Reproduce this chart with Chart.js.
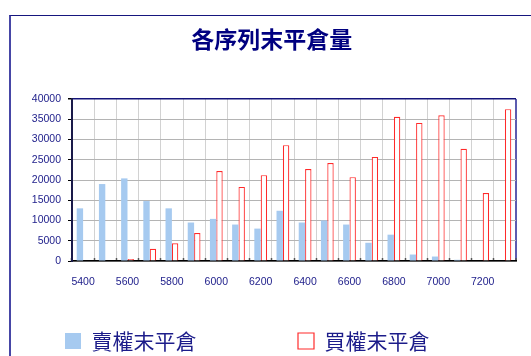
<!DOCTYPE html>
<html>
<head>
<meta charset="utf-8">
<script src="https://cdn.jsdelivr.net/npm/chart.js@4/dist/chart.umd.min.js"></script>
<style>
  html, body { margin: 0; padding: 0; background: #fff; overflow: hidden; width: 531px; height: 356px; }
  #frame { position: absolute; left: 9px; top: 15px; width: 600px; height: 400px;
           border-left: 2px solid #4646a6; border-top: 1px solid #16167e; }
  #c { position: absolute; left: 0; top: 0; }
</style>
</head>
<body>
<div id="frame"><canvas id="c" width="520" height="350" style="width:520px;height:350px"></canvas></div>
<script>
const titleText = '各序列末平倉量';
const strikes = ['5400','5500','5600','5700','5800','5900','6000','6100','6200','6300',
                 '6400','6500','6600','6700','6800','6900','7000','7100','7200','7300'];
const putOI  = [13000,19000,20400,14800,13000,9500,10400,9000,8000,12400,
                9500,10000,9000,4500,6500,1600,1100,300,0,0];
const callOI = [0,0,500,3000,4400,6900,22200,18300,21200,28600,
                22700,24200,20700,25700,35600,34100,36000,27700,16800,37500];
const putLabel = '賣權末平倉';
const callLabel = '買權末平倉';
const yTicks = [0,5000,10000,15000,20000,25000,30000,35000,40000];

const tickColor = '#22228c';
const numFont = { family: "'Liberation Sans', Arial, sans-serif", size: 10.5 };

new Chart(document.getElementById('c'), {
  type: 'bar',
  data: {
    labels: strikes,
    datasets: [
      { label: putLabel, data: putOI, backgroundColor: '#a6caf0', borderWidth: 0,
        barPercentage: 1, categoryPercentage: 0.575 },
      { label: callLabel, data: callOI, backgroundColor: '#ffffff', borderColor: '#ff2a2a',
        borderWidth: 1.2, barPercentage: 1, categoryPercentage: 0.575 }
    ]
  },
  options: {
    responsive: false,
    animation: false,
    layout: { padding: { left: 16.5, right: 15, top: 0, bottom: 4.5 } },
    plugins: {
      tooltip: { enabled: false },
      title: {
        display: true, text: titleText, color: '#000080',
        font: { family: "'Noto Sans CJK TC', 'Noto Sans CJK SC', sans-serif", size: 23, weight: 'bold' },
        padding: { top: 9.7, bottom: 45.7 }
      },
      legend: {
        position: 'bottom', align: 'start',
        labels: {
          boxWidth: 16, boxHeight: 16, padding: 37.5, color: '#1c1c8a',
          font: { family: "'Noto Sans CJK TC', 'Noto Sans CJK SC', sans-serif", size: 21 },
          generateLabels: (chart) => {
            const items = Chart.defaults.plugins.legend.labels.generateLabels(chart);
            items.splice(1, 0, { text: '', fillStyle: 'rgba(0,0,0,0)', strokeStyle: 'rgba(0,0,0,0)',
                                 lineWidth: 0, hidden: false, datasetIndex: -1 });
            return items;
          }
        }
      }
    },
    scales: {
      x: {
        afterFit: (s) => { s.height = 32; },
        grid: {
          offset: true, drawTicks: true, tickLength: -3,
          color: (c) => c.type === 'tick' ? '#d2d2d2' : '#5c5cb0',
          lineWidth: (c) => c.type === 'tick' ? 1 : 2,
          tickColor: '#555555', tickWidth: 1.5
        },
        border: { display: true, color: '#000000', width: 1.5 },
        ticks: {
          autoSkip: false, maxRotation: 0, padding: 18, color: tickColor, font: numFont,
          callback: function (v, i) { return i % 2 === 0 ? this.getLabelForValue(v) : ''; }
        }
      },
      y: {
        min: 0, max: 40000,
        afterFit: (s) => { s.width = 44.5; },
        afterBuildTicks: (s) => { s.ticks = yTicks.map(v => ({ value: v })); },
        grid: {
          color: (c) => (c.tick && c.tick.value === 40000) ? '#14147a' : '#b4b4b4',
          lineWidth: (c) => (c.tick && c.tick.value === 40000) ? 1.5 : 1,
          drawTicks: true, tickLength: 4, tickColor: '#000000'
        },
        border: { display: true, color: '#1a1a4a', width: 2 },
        ticks: { padding: 7, color: tickColor, font: numFont, callback: (v) => String(v) }
      }
    }
  }
});
</script>
</body>
</html>
